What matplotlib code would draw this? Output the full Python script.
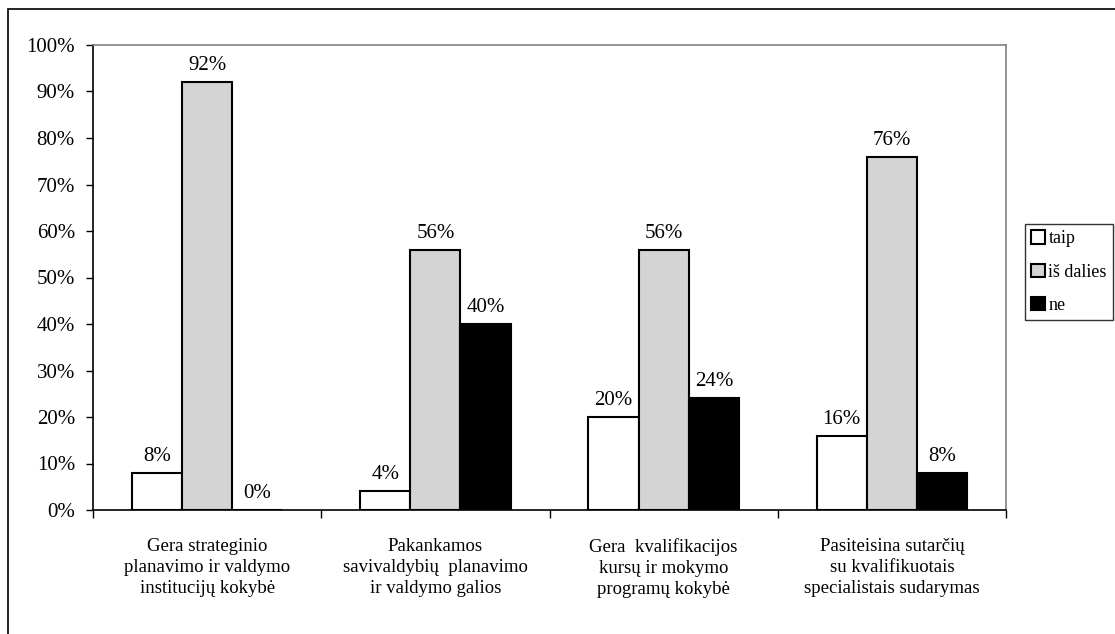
import matplotlib
matplotlib.use("Agg")
import matplotlib.pyplot as plt
from matplotlib.patches import Rectangle
import numpy as np

plt.rcParams['font.family'] = ['Liberation Serif', 'DejaVu Serif']

categories = ["Gera strateginio\nplanavimo ir valdymo\ninstitucijų kokybė",
              "Pakankamos\nsavivaldybių  planavimo\nir valdymo galios",
              "Gera  kvalifikacijos\nkursų ir mokymo\nprogramų kokybė",
              "Pasiteisina sutarčių\nsu kvalifikuotais\nspecialistais sudarymas"]
series_names = ["taip", "iš dalies", "ne"]
taip = [8, 4, 20, 16]
is_dalies = [92, 56, 56, 76]
ne = [0, 40, 24, 8]
yticks = list(range(0, 101, 10))

W, H = 1115, 634
fig = plt.figure(figsize=(W/100, H/100), dpi=100)
ax = fig.add_axes([93/W, 1-510/H, (1006-93)/W, (510-45)/H])

colors = ["white", "#d4d4d4", "black"]
values = [taip, is_dalies, ne]
bw = 0.22
x = np.arange(len(categories))
handles = []
for i, (vals, c, name) in enumerate(zip(values, colors, series_names)):
    bars = ax.bar(x + (i-1)*bw, vals, bw, color=c, edgecolor="black", linewidth=1.5, label=name)
    handles.append(bars)
    for xi, v in zip(x + (i-1)*bw, vals):
        ax.annotate(f"{v}%", (xi, v), xytext=(0, 5), textcoords="offset points",
                    ha="center", va="bottom", fontsize=15)

ax.set_xlim(-0.5, 3.5)
ax.set_ylim(0, 100)
ax.set_yticks(yticks)
ax.set_yticklabels([f"{t}%" for t in yticks], fontsize=15)
ax.set_xticks(np.arange(-0.5, 4, 1))
ax.set_xticklabels([])
ax.set_xticks(x, minor=True)
ax.set_xticklabels(categories, minor=True, fontsize=13.5, linespacing=1.32)
ax.tick_params(axis='x', which='minor', length=0, pad=20)
ax.tick_params(axis='x', which='major', length=6, direction='out', width=1)
ax.tick_params(axis='y', length=5, direction='out', width=1, pad=8)
for s in ['top', 'right']:
    ax.spines[s].set_color('#808080')
    ax.spines[s].set_linewidth(1.2)
for s in ['left', 'bottom']:
    ax.spines[s].set_color('black')
    ax.spines[s].set_linewidth(1.2)

leg = fig.legend(handles=handles, labels=series_names, loc='upper left',
                 bbox_to_anchor=(1025/W, 1-224/H), frameon=True, fancybox=False,
                 edgecolor='black', fontsize=13, handlelength=0.75, handleheight=0.75,
                 handletextpad=0.2, borderpad=0.35, labelspacing=0.9, borderaxespad=0)
leg.get_frame().set_linewidth(1.0)

fig.patches.append(Rectangle((8/W, -0.1), 1.2, 1.1 - 9/H, transform=fig.transFigure,
                             fill=False, edgecolor='black', linewidth=1.2))

fig.savefig("out.png", dpi=100)
